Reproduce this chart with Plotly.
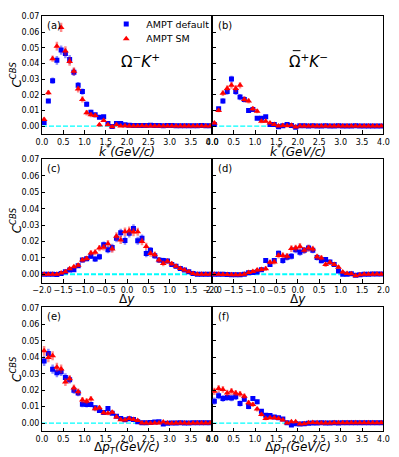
import numpy as np
import plotly.graph_objects as go
from plotly.subplots import make_subplots

# bin centres
k_bins = np.round(np.arange(0.05, 4.0, 0.1), 2)
dy_bins = np.round(np.arange(-1.95, 2.0, 0.1), 2)
pt_bins = np.round(np.arange(0.05, 4.0, 0.1), 2)
y_ticks = [0.0, 0.01, 0.02, 0.03, 0.04, 0.05, 0.06, 0.07]

# (a) Omega- K+ vs k*
a_default = [0.0022, 0.016, 0.029, 0.042, 0.0485, 0.0463, 0.0425, 0.0344, 0.026, 0.022,
             0.0139, 0.0089, 0.0072, 0.0056, 0.006, 0.0016, -0.0002, 0.0016, 0.0016, 0.0008,
             0.0006, 0.0004, 0.0004, 0.0003, 0.0004, 0.0005, 0.0004, 0.0003, 0.0002, 0.0003,
             0.0003, 0.0002, 0.0002, 0.0002, 0.0002, 0.0002, 0.0002, 0.0003, 0.0002, 0.0002]
a_sm = [0.0042, 0.0213, 0.043, 0.051, 0.063, 0.048, 0.0413, 0.035, 0.0236, 0.017,
        0.0085, 0.0072, 0.0068, 0.0008, 0.0036, 0.0008, -0.0004, 0.0008, 0.0001, 0.0002,
        0.0001, 0.0001, 0.0001, 0.0002, 0.0001, 0.0001, 0.0001, 0.0, 0.0001, 0.0001,
        0.0, 0.0001, 0.0001, 0.0, 0.0001, 0.0001, 0.0, 0.0001, 0.0, 0.0001]
a_err = [0.0012, 0.0015, 0.002, 0.0028, 0.003, 0.003, 0.0028, 0.0025, 0.0022, 0.002,
         0.0018, 0.0015, 0.0013, 0.0012, 0.001, 0.0008, 0.0007, 0.0006, 0.0006, 0.0005,
         0.0004, 0.0004, 0.0004, 0.0004, 0.0004, 0.0004, 0.0004, 0.0004, 0.0004, 0.0004,
         0.0004, 0.0004, 0.0004, 0.0004, 0.0004, 0.0004, 0.0004, 0.0004, 0.0004, 0.0004]

# (b) anti-Omega+ K- vs k*
b_default = [0.001, 0.011, 0.016, 0.022, 0.030, 0.022, 0.0185, 0.017, 0.010, 0.0105,
             0.005, 0.005, 0.006, 0.001, 0.001, -0.0005, 0.0002, 0.001, 0.0004, -0.0008,
             0.0002, 0.0002, 0.0001, 0.0002, 0.0001, 0.0001, 0.0002, 0.0001, 0.0001, 0.0002,
             0.0001, 0.0001, 0.0001, 0.0002, 0.0001, 0.0001, 0.0001, 0.0001, 0.0001, 0.0001]
b_sm = [0.002, 0.010, 0.021, 0.024, 0.026, 0.024, 0.026, 0.017, 0.016, 0.011,
        0.0095, 0.003, 0.003, 0.002, 0.001, 0.0, 0.0004, 0.0002, 0.0005, -0.0006,
        0.0001, 0.0001, 0.0, 0.0001, 0.0001, 0.0, 0.0001, 0.0001, 0.0, 0.0001,
        0.0, 0.0001, 0.0001, 0.0, 0.0001, 0.0, 0.0001, 0.0001, 0.0, 0.0001]
b_err = [0.001, 0.0012, 0.0018, 0.002, 0.0022, 0.0022, 0.002, 0.0018, 0.0016, 0.0015,
         0.0013, 0.0012, 0.001, 0.0008, 0.0007, 0.0006, 0.0005, 0.0005, 0.0005, 0.0004,
         0.0004, 0.0004, 0.0004, 0.0004, 0.0004, 0.0004, 0.0004, 0.0004, 0.0004, 0.0004,
         0.0004, 0.0004, 0.0004, 0.0004, 0.0004, 0.0004, 0.0004, 0.0004, 0.0004, 0.0004]

# (c) Omega- K+ vs delta y
c_default = [0.0, 0.0, 0.0, -0.0001, 0.0006, 0.0016, 0.0026, 0.0028, 0.0052, 0.0087,
             0.0095, 0.011, 0.0093, 0.0107, 0.018, 0.015, 0.0163, 0.022, 0.0253, 0.0207,
             0.025, 0.028, 0.0205, 0.022, 0.0127, 0.0147, 0.0113, 0.0087, 0.0085, 0.0082,
             0.006, 0.005, 0.0036, 0.0026, 0.0016, 0.0006, 0.0, 0.0, 0.0, 0.0]
c_sm = [0.0, 0.0, 0.0, 0.0, 0.0008, 0.0016, 0.0034, 0.0046, 0.0055, 0.0087,
        0.0097, 0.013, 0.0135, 0.016, 0.0165, 0.0187, 0.0155, 0.0233, 0.021, 0.026,
        0.0266, 0.0258, 0.026, 0.020, 0.017, 0.0127, 0.012, 0.0087, 0.0066, 0.008,
        0.0065, 0.005, 0.0036, 0.0026, 0.0016, 0.0006, 0.0, 0.0, 0.0, 0.0]
c_err = [0.0004, 0.0004, 0.0004, 0.0005, 0.0006, 0.0007, 0.0009, 0.001, 0.0012, 0.0014,
         0.0015, 0.0017, 0.0018, 0.0019, 0.002, 0.0022, 0.0023, 0.0024, 0.0025, 0.0026,
         0.0026, 0.0025, 0.0024, 0.0023, 0.0022, 0.002, 0.0019, 0.0018, 0.0017, 0.0015,
         0.0014, 0.0012, 0.001, 0.0009, 0.0007, 0.0006, 0.0005, 0.0004, 0.0004, 0.0004]

# (d) anti-Omega+ K- vs delta y
d_default = [0.0, 0.0, 0.0, -0.0001, -0.0002, -0.0003, -0.0003, 0.0, 0.001, 0.0012,
             0.0015, 0.0028, 0.0084, 0.006, 0.0084, 0.0128, 0.0084, 0.0105, 0.011, 0.015,
             0.0135, 0.0147, 0.016, 0.0147, 0.0103, 0.0083, 0.009, 0.0076, 0.006, 0.002,
             0.0, 0.0, 0.0004, -0.0006, -0.0003, 0.0001, 0.0001, 0.0002, 0.0002, 0.0002]
d_sm = [0.0, 0.0, -0.0001, -0.0001, -0.0002, -0.0002, -0.0003, 0.0, 0.0012, 0.0018,
        0.0026, 0.003, 0.0034, 0.0074, 0.0076, 0.0115, 0.0115, 0.011, 0.0157, 0.016,
        0.017, 0.0147, 0.016, 0.0155, 0.0107, 0.010, 0.006, 0.0072, 0.006, 0.0044,
        0.0014, 0.0006, 0.0004, -0.0008, -0.0002, 0.0001, 0.0001, 0.0001, 0.0002, 0.0001]
d_err = [0.0004, 0.0004, 0.0004, 0.0004, 0.0005, 0.0005, 0.0006, 0.0007, 0.0008, 0.001,
         0.0011, 0.0012, 0.0014, 0.0015, 0.0016, 0.0018, 0.0019, 0.002, 0.002, 0.0021,
         0.0021, 0.002, 0.002, 0.0019, 0.0018, 0.0016, 0.0015, 0.0014, 0.0012, 0.0011,
         0.001, 0.0008, 0.0007, 0.0006, 0.0005, 0.0005, 0.0004, 0.0004, 0.0004, 0.0004]

# (e) Omega- K+ vs delta pT
e_default = [0.0378, 0.0423, 0.0328, 0.0306, 0.0312, 0.0278, 0.0264, 0.020, 0.0183, 0.0115,
             0.0113, 0.0113, 0.0093, 0.0076, 0.0064, 0.0089, 0.006, 0.0042, 0.0028, 0.002,
             0.0026, 0.0022, 0.0008, 0.0002, 0.0002, 0.0004, 0.0006, 0.0008, -0.0006, -0.0002,
             0.0, 0.0, 0.0001, 0.0, 0.0, 0.0002, 0.0002, 0.0002, 0.0002, 0.0002]
e_sm = [0.044, 0.040, 0.041, 0.034, 0.033, 0.025, 0.027, 0.0213, 0.019, 0.014,
        0.0133, 0.0147, 0.0087, 0.0093, 0.0062, 0.006, 0.0066, 0.0036, 0.002, 0.0018,
        0.0028, 0.0022, 0.0016, 0.0, 0.0, -0.0001, 0.0, 0.0, 0.0006, 0.0,
        -0.0001, 0.0, 0.0, 0.0, -0.0001, 0.0, 0.0, 0.0, 0.0, 0.0]
e_err = [0.003, 0.003, 0.0028, 0.0027, 0.0026, 0.0025, 0.0023, 0.0022, 0.002, 0.0019,
         0.0018, 0.0017, 0.0015, 0.0014, 0.0013, 0.0012, 0.0011, 0.001, 0.0009, 0.0008,
         0.0007, 0.0007, 0.0006, 0.0006, 0.0005, 0.0005, 0.0005, 0.0005, 0.0004, 0.0004,
         0.0004, 0.0004, 0.0004, 0.0004, 0.0004, 0.0004, 0.0004, 0.0004, 0.0004, 0.0004]

# (f) anti-Omega+ K- vs delta pT
f_default = [0.0133, 0.0167, 0.015, 0.0155, 0.0153, 0.016, 0.0119, 0.0145, 0.010, 0.0149,
             0.0129, 0.0072, 0.0048, 0.0046, 0.0036, 0.0032, 0.0024, 0.0002, -0.0012, -0.0004,
             -0.0006, -0.0004, -0.0002, 0.0, 0.0, 0.0001, 0.0, 0.0, 0.0001, 0.0,
             0.0002, 0.0002, 0.0001, 0.0002, 0.0002, 0.0002, 0.0002, 0.0001, 0.0002, 0.0002]
f_sm = [0.0193, 0.021, 0.0205, 0.0183, 0.0193, 0.0183, 0.0177, 0.0163, 0.0123, 0.0113,
        0.0085, 0.0052, 0.0028, 0.0032, 0.0032, 0.0028, 0.0018, 0.0, 0.0008, 0.0008,
        -0.0006, -0.0004, 0.0002, 0.0004, 0.0002, 0.0, 0.0, 0.0, 0.0001, 0.0001,
        0.0002, 0.0001, 0.0001, 0.0002, 0.0001, 0.0001, 0.0001, 0.0001, 0.0001, 0.0001]
f_err = [0.0022, 0.0022, 0.0021, 0.002, 0.002, 0.0019, 0.0018, 0.0017, 0.0016, 0.0015,
         0.0014, 0.0012, 0.0011, 0.001, 0.0009, 0.0008, 0.0007, 0.0006, 0.0006, 0.0005,
         0.0005, 0.0005, 0.0004, 0.0004, 0.0004, 0.0004, 0.0004, 0.0004, 0.0004, 0.0004,
         0.0004, 0.0004, 0.0004, 0.0004, 0.0004, 0.0004, 0.0004, 0.0004, 0.0004, 0.0004]

panels = [
    ("(a)", 1, 1, k_bins, a_default, a_sm, a_err),
    ("(b)", 1, 2, k_bins, b_default, b_sm, b_err),
    ("(c)", 2, 1, dy_bins, c_default, c_sm, c_err),
    ("(d)", 2, 2, dy_bins, d_default, d_sm, d_err),
    ("(e)", 3, 1, pt_bins, e_default, e_sm, e_err),
    ("(f)", 3, 2, pt_bins, f_default, f_sm, f_err),
]

FONT = "DejaVu Sans"
# the page body has an 8px margin, so the figure is drawn 8px in from the window edge
OFF = 8
W, H = 399 - OFF, 457 - OFF


def px(sx):
    return min(1.0, max(0.0, (sx - OFF) / W))


def py(sy):
    return min(1.0, max(0.0, 1 - (sy - OFF) / H))


fig = make_subplots(rows=3, cols=2, horizontal_spacing=0, vertical_spacing=0.05)

for label, r, c, xb, yd, ysm, err in panels:
    first = (label == "(a)")
    fig.add_trace(go.Scatter(
        x=xb, y=yd, mode="markers", name="AMPT default",
        marker=dict(symbol="square", size=5, color="blue"),
        error_y=dict(type="data", array=err, color="rgba(0,0,255,0.45)", thickness=2.5, width=0),
        showlegend=first, legend="legend"), row=r, col=c)
    fig.add_trace(go.Scatter(
        x=xb, y=ysm, mode="markers", name="AMPT SM",
        marker=dict(symbol="triangle-up", size=6, color="red"),
        error_y=dict(type="data", array=err, color="rgba(255,0,0,0.45)", thickness=2.5, width=0),
        showlegend=first, legend="legend2"), row=r, col=c)
    lw = 2 if r == 2 else 1.2
    fig.add_hline(y=0, line=dict(color="cyan", width=lw, dash="5px,2px"), layer="below", row=r, col=c)
    fig.add_annotation(text=label, xref="x domain", yref="y domain", x=0.02, y=0.985,
                       xanchor="left", yanchor="top", showarrow=False,
                       font=dict(family=FONT, size=10, color="black"), row=r, col=c)

# domains from screen pixels (top row starts a little low so its 0.07 label fits on the page)
xdom = {1: [px(33), px(210.5)], 2: [px(210.5), px(389)]}
ydom = {1: [py(131), py(12)],
        2: [py(281), py(156)],
        3: [py(431), py(306)]}
ytop = {1: 0.0703, 2: 0.0705, 3: 0.0705}
xtitles = {1: "<i>k</i><sup>*</sup><i>(GeV/c)</i>",
           2: "Δ<i>y</i>",
           3: "Δ<i>p</i><sub><i>T</i></sub><i>(GeV/c)</i>"}
xtitle_y = {1: 148, 2: 298, 3: 448}

for r in (1, 2, 3):
    for c in (1, 2):
        xr = [-2, 2] if r == 2 else [0, 4]
        fig.update_xaxes(domain=xdom[c], range=xr, dtick=0.5, tickformat=".1f", tickangle=0,
                         ticks="inside", ticklen=3.5, tickwidth=0.8, tickcolor="black",
                         showline=True, linecolor="black", linewidth=1, mirror=True,
                         showgrid=False, zeroline=False,
                         tickfont=dict(family=FONT, size=8, color="black"),
                         row=r, col=c)
        ykw = dict(title=dict(text="<i>C</i><sup><i>CBS</i></sup>", standoff=2,
                              font=dict(family=FONT, size=12, color="black"))) if c == 1 else {}
        fig.update_yaxes(domain=ydom[r], range=[-0.005, ytop[r]],
                         tickmode="array", tickvals=y_ticks, tickformat=".2f",
                         ticks="inside", ticklen=3.5, tickwidth=0.8, tickcolor="black",
                         showline=True, linecolor="black", linewidth=1, mirror=True,
                         showgrid=False, zeroline=False, showticklabels=(c == 1),
                         ticklabeloverflow="allow",
                         tickfont=dict(family=FONT, size=8, color="black"),
                         row=r, col=c, **ykw)
        # x-axis titles as annotations so they sit close to the tick labels
        fig.add_annotation(text=xtitles[r], xref="paper", yref="paper",
                           x=(xdom[c][0] + xdom[c][1]) / 2, y=py(xtitle_y[r]),
                           xanchor="center", yanchor="middle", showarrow=False,
                           font=dict(family=FONT, size=12, color="black"))

# system labels
fig.add_annotation(text="Ω<sup>−</sup><i>K</i><sup>+</sup>", xref="x domain", yref="y domain",
                   x=0.576, y=0.62, showarrow=False,
                   font=dict(family=FONT, size=15, color="black"), row=1, col=1)
fig.add_annotation(text="Ω<sup>+</sup><i>K</i><sup>−</sup>", xref="x domain", yref="y domain",
                   x=0.563, y=0.62, showarrow=False,
                   font=dict(family=FONT, size=15, color="black"), row=1, col=2)
# bar over the anti-Omega
fig.add_shape(type="line", xref="paper", yref="paper",
              x0=px(294.5), x1=px(302.5), y0=py(47), y1=py(47),
              line=dict(color="black", width=1))

legfont = dict(family=FONT, size=9.5, color="black")
fig.update_layout(
    width=W, height=H, margin=dict(l=0, r=0, t=0, b=0),
    paper_bgcolor="white", plot_bgcolor="white",
    legend=dict(x=px(100), y=py(20), xanchor="left", yanchor="middle",
                bgcolor="rgba(0,0,0,0)", font=legfont, itemwidth=30),
    legend2=dict(x=px(100), y=py(35), xanchor="left", yanchor="middle",
                 bgcolor="rgba(0,0,0,0)", font=legfont, itemwidth=30),
)

fig.write_html("out.html")
